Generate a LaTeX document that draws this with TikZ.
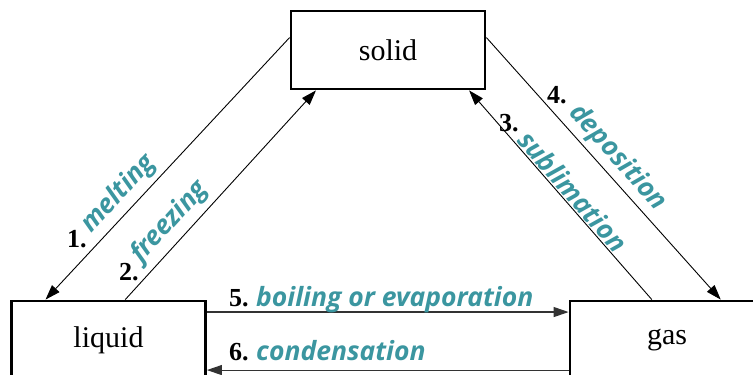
\documentclass[tikz,border=0pt]{standalone}
\usepackage{fontspec}
\setmainfont{Liberation Serif}
\newfontfamily\labelfont{Open Sans}
\usetikzlibrary{arrows.meta,calc}
\definecolor{phaseteal}{RGB}{59,150,160}
\begin{document}
\begin{tikzpicture}[x=1pt,y=-1pt,
  box/.style={draw, line width=2.8pt, minimum width=194pt, minimum height=78pt, inner sep=0pt, font=\fontsize{30}{30}\selectfont},
  conn/.style={line width=0.9pt, -{Triangle[length=15pt,width=10pt]}},
  hconn/.style={line width=1.1pt, draw=black!80, -{Triangle[length=15pt,width=10pt]}},
  num/.style={font=\fontsize{26}{26}\selectfont\bfseries, anchor=base west, inner sep=0pt},
  lab/.style={font=\fontsize{26.5}{26.5}\selectfont\labelfont\bfseries\itshape, text=phaseteal, anchor=base west, inner sep=0pt}]
\useasboundingbox (0,0) rectangle (753,375);
\clip (0,0) rectangle (753,375);
\node[box] (solid) at (388,50) {solid};
\node[box] (liquid) at (108.5,340) {liquid};
\node[box] (gas) at (667,340) {gas};
% diagonal connectors
\draw[conn] ($(solid.north west)!0.346!(solid.south west)$) -- ($(liquid.north west)!0.18!(liquid.north east)$);
\draw[conn] ($(liquid.north west)!0.585!(liquid.north east)$) -- ($(solid.south west)!0.134!(solid.south east)$);
\draw[conn] ($(gas.north west)!0.423!(gas.north east)$) -- ($(solid.south west)!0.912!(solid.south east)$);
\draw[conn] ($(solid.north east)!0.346!(solid.south east)$) -- ($(gas.north west)!0.773!(gas.north east)$);
% horizontal connectors
\draw[hconn] ($(liquid.north east)!0.154!(liquid.south east)$) -- ($(gas.north west)!0.154!(gas.south west)$);
\draw[hconn] ($(gas.north west)!0.872!(gas.south west)$) -- ($(liquid.north east)!0.872!(liquid.south east)$);
% labels
\node[num] (n1) at (67,247) {1.};
\node[lab, rotate=47.3] (l1) at (91,234) {melting};
\node[num] (n2) at (119,280) {2.};
\node[lab, rotate=47.6] (l2) at (141,264) {freezing};
\node[num] (n3) at (499,131) {3.};
\node[lab, rotate=-48.9] (l3) at (516,141) {sublimation};
\node[num] (n4) at (547,103) {4.};
\node[lab, rotate=-48.1] (l4) at (568,113) {deposition};
\node[num] (n5) at (229,306) {5.};
\node[lab] (l5) at (256,306) {boiling or evaporation};
\node[num] (n6) at (229,360) {6.};
\node[lab] (l6) at (256,360) {condensation};
\end{tikzpicture}
\end{document}
